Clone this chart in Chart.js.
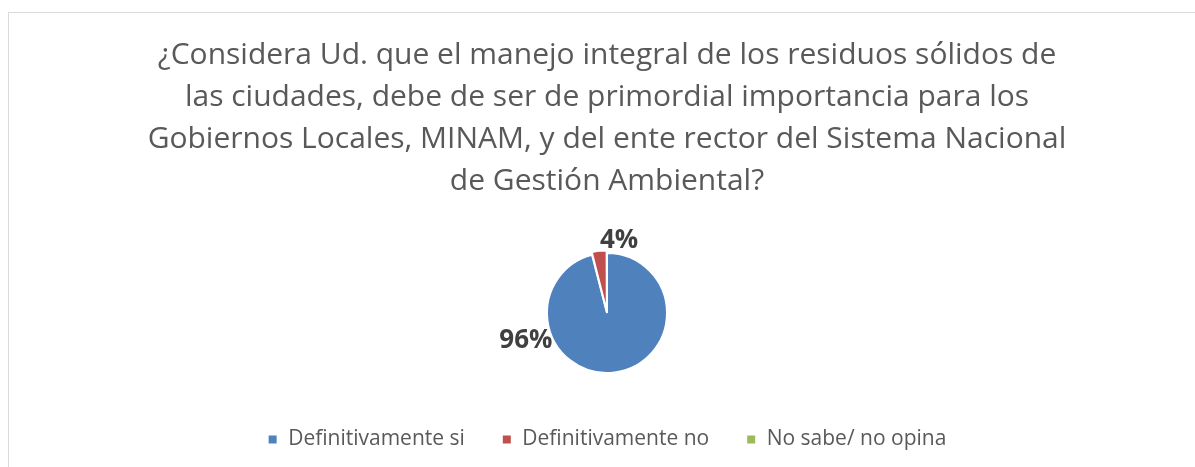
<!DOCTYPE html>
<html>
<head>
<meta charset="utf-8">
<script src="https://cdn.jsdelivr.net/npm/chart.js"></script>
<style>
  body { margin: 0; background: #ffffff; overflow: hidden; }
  #box {
    position: absolute;
    left: 8px;
    top: 12px;
    width: 1196px;
    height: 470px;
    border: 1px solid #d9d9d9;
  }
</style>
</head>
<body>
<div id="box">
  <canvas id="pieChart" width="1196" height="454"></canvas>
</div>
<script>
// Survey answers
const categories = ["Definitivamente si", "Definitivamente no", "No sabe/ no opina"];
const percentages = [96, 4, 0];
const valueLabels = ["96%", "4%", ""];
const titleLines = [
  "¿Considera Ud. que el manejo integral de los residuos sólidos de",
  "las ciudades, debe de ser de primordial importancia para los",
  "Gobiernos Locales, MINAM, y del ente rector del Sistema Nacional",
  "de Gestión Ambiental?"
];

const sliceColors = ["#4f81bd", "#c0504d", "#9bbb59"];

// where each value label sits, relative to the slice centre (angle in degrees, distance in radii)
const labelSpots = [
  { angle: 161, dist: 1.43 },
  { angle: -80.5, dist: 1.22 },
  { angle: 0, dist: 1.2 }
];

// Draw the percentage labels next to the pie
const valueLabelPlugin = {
  id: "valueLabels",
  afterDatasetsDraw(chart) {
    const ctx = chart.ctx;
    const meta = chart.getDatasetMeta(0);
    ctx.save();
    ctx.font = "bold 26px 'Open Sans'";
    ctx.fillStyle = "#404040";
    ctx.textAlign = "center";
    ctx.textBaseline = "middle";
    meta.data.forEach((arc, i) => {
      if (!valueLabels[i]) return;
      const p = arc.getProps(["x", "y", "outerRadius"], true);
      const a = (labelSpots[i].angle * Math.PI) / 180;
      const r = p.outerRadius * labelSpots[i].dist;
      ctx.fillText(valueLabels[i], p.x + Math.cos(a) * r, p.y + Math.sin(a) * r);
    });
    ctx.restore();
  }
};

const ctx = document.getElementById("pieChart");
new Chart(ctx, {
  type: "pie",
  data: {
    labels: categories,
    datasets: [
      {
        data: percentages,
        backgroundColor: sliceColors,
        borderColor: "#ffffff",
        borderWidth: 2,
        offset: [0, 6, 0],
        radius: 60
      }
    ]
  },
  options: {
    responsive: false,
    animation: false,
    layout: {
      padding: { top: 0, bottom: 7, left: 0, right: 0 }
    },
    plugins: {
      title: {
        display: true,
        text: titleLines,
        color: "#595959",
        font: { family: "Open Sans", size: 30, weight: "normal", lineHeight: 1.4 },
        padding: { top: 21, bottom: 32 }
      },
      legend: {
        position: "bottom",
        labels: {
          color: "#595959",
          font: { family: "Open Sans", size: 21 },
          usePointStyle: true,
          pointStyle: "rect",
          boxWidth: 10,
          boxHeight: 10,
          padding: 37
        }
      },
      tooltip: { enabled: false }
    }
  },
  plugins: [valueLabelPlugin]
});
</script>
</body>
</html>
